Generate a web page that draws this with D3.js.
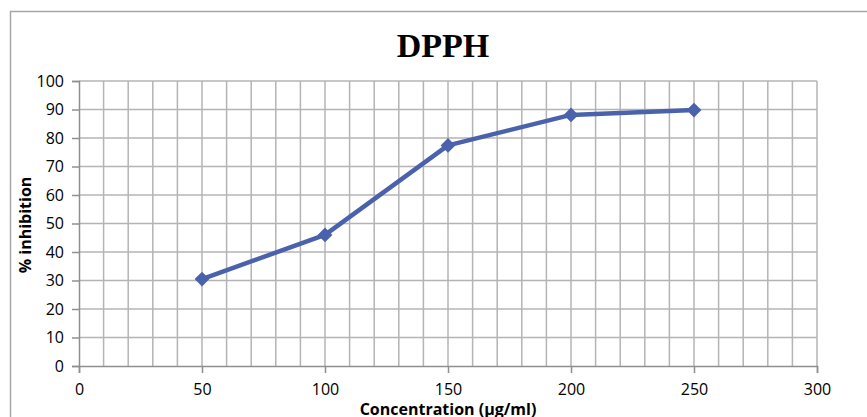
<!DOCTYPE html>
<html>
<head>
<meta charset="utf-8">
<script src="https://cdn.jsdelivr.net/npm/d3@7"></script>
<style>
  body { margin: 0; background: #fff; }
  svg { display: block; }
</style>
</head>
<body>
<svg id="chart" width="867" height="417"></svg>
<script>
// data
const concentration = [50, 100, 150, 200, 250];
const inhibition = [30.5, 46, 77.4, 88.1, 89.8];
const xTicks = [0, 50, 100, 150, 200, 250, 300];
const yTicks = [0, 10, 20, 30, 40, 50, 60, 70, 80, 90, 100];

const width = 867, height = 417;
const margin = {left: 79, right: 50, top: 81, bottom: 51};
const lineColor = '#4a62ab';
const gridColor = '#b4b4b4';
const tickFont = '"Open Sans", "DejaVu Sans", sans-serif';

const svg = d3.select('#chart');

// outer chart border (only left and top visible in frame)
svg.append('path')
  .attr('d', `M 10.5 ${height} L 10.5 11.5 L ${width} 11.5`)
  .attr('fill', 'none')
  .attr('stroke', '#a6a6a6')
  .attr('stroke-width', 1.5);

const x = d3.scaleLinear().domain([0, 300]).range([margin.left, width - margin.right]);
const y = d3.scaleLinear().domain([0, 100]).range([height - margin.bottom, margin.top]);

const grid = svg.append('g').classed('grid', true);

// vertical minor gridlines every 10
grid.selectAll('line.v')
  .data(d3.range(10, 301, 10))
  .enter().append('line')
  .attr('x1', d => x(d)).attr('x2', d => x(d))
  .attr('y1', y(0)).attr('y2', y(100))
  .attr('stroke', gridColor)
  .attr('stroke-width', 1.5);

// horizontal gridlines
grid.selectAll('line.h')
  .data(yTicks.slice(1))
  .enter().append('line')
  .attr('x1', x(0)).attr('x2', x(300))
  .attr('y1', d => y(d)).attr('y2', d => y(d))
  .attr('stroke', gridColor)
  .attr('stroke-width', 1.5);

// axes
const xAxis = svg.append('g')
  .attr('transform', `translate(0,${y(0)})`)
  .call(d3.axisBottom(x).tickValues(xTicks).tickSize(7).tickPadding(11));
const yAxis = svg.append('g')
  .attr('transform', `translate(${x(0)},0)`)
  .call(d3.axisLeft(y).tickValues(yTicks).tickSize(7).tickPadding(8));

[xAxis, yAxis].forEach(a => {
  a.select('.domain').attr('stroke', '#8f8f8f').attr('stroke-width', 1.5);
  a.selectAll('.tick line').attr('stroke', '#8f8f8f').attr('stroke-width', 1.5);
  a.selectAll('.tick text')
    .attr('fill', '#000')
    .style('font-family', tickFont)
    .style('font-size', '16px');
});

// series line
const points = concentration.map((c, i) => ({c: c, v: inhibition[i]}));
svg.append('path')
  .datum(points)
  .attr('fill', 'none')
  .attr('stroke', lineColor)
  .attr('stroke-width', 4.5)
  .attr('stroke-linejoin', 'round')
  .attr('d', d3.line().x(d => x(d.c)).y(d => y(d.v)));

// diamond markers
svg.selectAll('path.marker')
  .data(points)
  .enter().append('path')
  .classed('marker', true)
  .attr('transform', d => `translate(${x(d.c)},${y(d.v)})`)
  .attr('d', d3.symbol().type(d3.symbolDiamond2).size(140)())
  .attr('fill', lineColor);

// title
svg.append('text')
  .attr('x', 443).attr('y', 57)
  .attr('text-anchor', 'middle')
  .style('font-family', '"Liberation Serif", "Times New Roman", serif')
  .style('font-weight', 'bold')
  .style('font-size', '34px')
  .text('DPPH');

// axis titles
svg.append('text')
  .attr('x', x(150)).attr('y', 415)
  .attr('text-anchor', 'middle')
  .style('font-family', tickFont)
  .style('font-weight', 'bold')
  .style('font-size', '16px')
  .text('Concentration (µg/ml)');

svg.append('text')
  .attr('transform', 'translate(31,225) rotate(-90)')
  .attr('text-anchor', 'middle')
  .style('font-family', tickFont)
  .style('font-weight', 'bold')
  .style('font-size', '16px')
  .text('% inhibition');
</script>
</body>
</html>
